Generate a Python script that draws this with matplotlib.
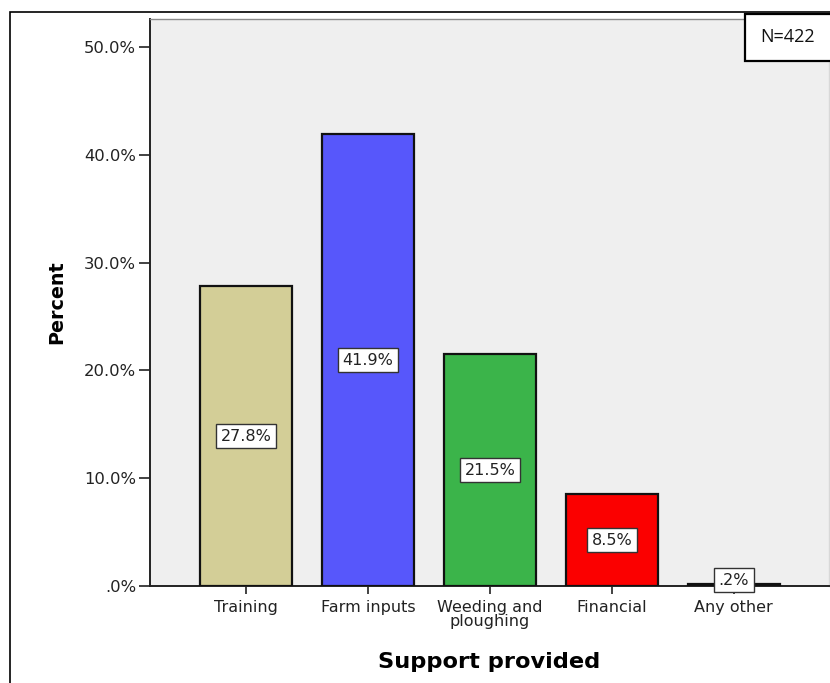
import matplotlib
matplotlib.use("Agg")
import matplotlib.pyplot as plt
from matplotlib.patches import Rectangle

categories = ["Training", "Farm inputs", "Weeding and\nploughing", "Financial", "Any other"]
percents = [27.8, 41.9, 21.5, 8.5, 0.2]
bar_colors = ["#d3ce97", "#5757fb", "#3bb44a", "#fb0000", "#7c287d"]
y_ticks = [0, 10, 20, 30, 40, 50]
n_text = "N=422"


def spss_pct(v, decimals=1):
    s = f"{v:.{decimals}f}"
    if s.startswith("0."):
        s = s[1:]
    return s + "%"


plt.rcParams["font.family"] = ["DejaVu Sans"]

fig = plt.figure(figsize=(8.30, 6.83), dpi=100)
ax = fig.add_axes([150 / 830, 97 / 683, 679 / 830, 567 / 683])
ax.set_facecolor("#efefef")

x = list(range(len(categories)))
ax.bar(x, percents, width=0.755, color=bar_colors, edgecolor="#111111", linewidth=1.6, zorder=3)

for xi, v in zip(x, percents):
    ax.text(xi, max(v / 2, 0.55), spss_pct(v), ha="center", va="center", fontsize=11.5,
            color="#222222", zorder=4,
            bbox=dict(boxstyle="square,pad=0.28", facecolor="white", edgecolor="#333333", linewidth=1.0))

ax.set_xlim(-0.787, 4.78)
ax.set_ylim(0, 52.6)
ax.set_xticks(x)
ax.set_xticklabels(categories, fontsize=11.5, linespacing=0.95, color="#222222")
ax.set_yticks(y_ticks)
ax.set_yticklabels([spss_pct(t) for t in y_ticks], fontsize=11.8, color="#222222")
ax.tick_params(axis="y", length=8, width=1.2, pad=2, color="#222222")
ax.tick_params(axis="x", length=6, width=1.2, pad=4, color="#222222")

for side in ("left", "bottom"):
    ax.spines[side].set_color("#222222")
    ax.spines[side].set_linewidth(1.4)
ax.spines["top"].set_color("#8a8a8a")
ax.spines["top"].set_linewidth(1.0)
ax.spines["right"].set_color("#d8d8d8")
ax.spines["right"].set_linewidth(1.0)

ax.set_ylabel("Percent", fontsize=13.8, fontweight="bold", labelpad=13)
ax.set_xlabel("Support provided", fontsize=16.2, fontweight="bold", labelpad=16)

# outer frame of the chart
fig.patches.append(Rectangle((10 / 830, -0.05), 1.0, (683 - 12) / 683 + 0.05,
                             transform=fig.transFigure, fill=False,
                             edgecolor="black", linewidth=1.2, zorder=0))

# sample size box in the top-right corner
fig.text(788 / 830, 1 - 37 / 683, n_text, ha="center", va="center", fontsize=13,
         family=["Open Sans", "DejaVu Sans"], color="#111111")
fig.patches.append(Rectangle((745 / 830, 1 - 61 / 683), 0.2, 47 / 683,
                             transform=fig.transFigure, facecolor="white",
                             edgecolor="black", linewidth=1.6, zorder=5))
fig.texts[-1].set_zorder(6)

fig.savefig("out.png", dpi=100)
